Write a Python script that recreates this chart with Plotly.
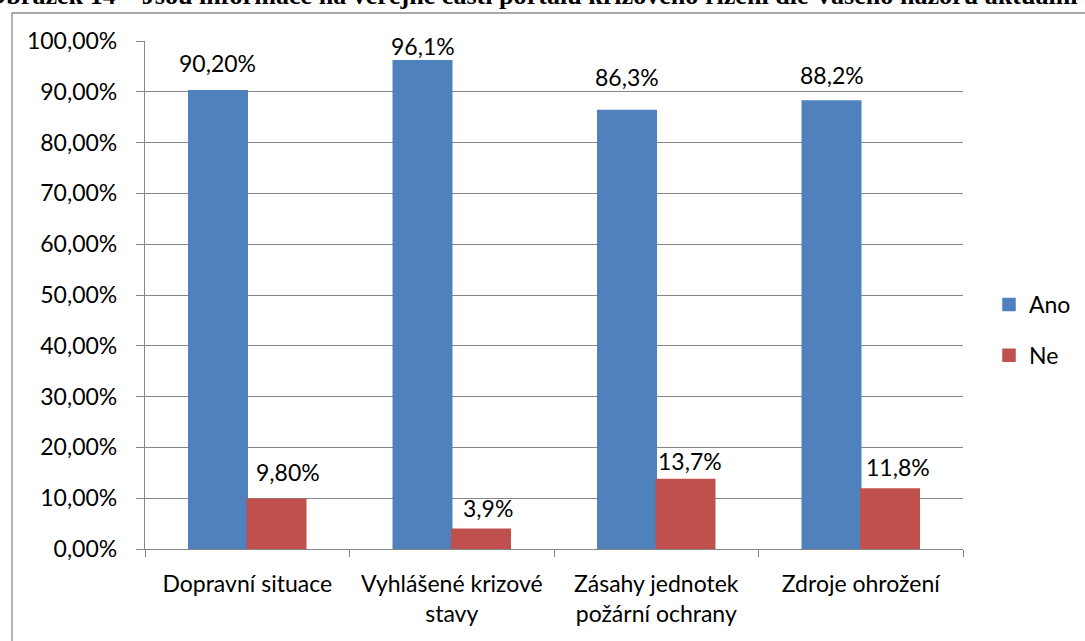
import plotly.graph_objects as go

categories = ["Dopravní situace", "Vyhlášené krizové<br>stavy", "Zásahy jednotek<br>požární ochrany", "Zdroje ohrožení"]
ano_values = [0.902, 0.961, 0.863, 0.882]
ne_values = [0.098, 0.039, 0.137, 0.118]
ano_labels = ["90,20%", "96,1%", "86,3%", "88,2%"]
ne_labels = ["9,80%", "3,9%", "13,7%", "11,8%"]
title_text = "Obrázek 14 – Jsou informace na veřejné části portálu krizového řízení dle Vašeho názoru aktuální"

# layout tweaks: manual label placement (pixels) as in the original chart
ano_label_dx = [-1, 0, 0, 0]
ano_label_dy = [28, 15, 34, 26]
ne_label_dx = [12, 7, 5, 8]
ne_label_dy = [27, 21, 18, 22]

FONT = "Lato, Open Sans, sans-serif"
FS = 23
W, H = 1085, 641
L, R, T, B = 145, 122, 41, 92
PW, PH = W - L - R, H - T - B
BARGAP = 0.428
bar_px = PW / len(categories) * (1 - BARGAP) / 2

fig = go.Figure()
fig.add_trace(go.Bar(name="Ano", x=categories, y=ano_values, marker_color="#4F81BD",
                     marker_line=dict(color="#4F81BD", width=1.5), legendgroup="a"))
fig.add_trace(go.Bar(name="Ne", x=categories, y=ne_values, marker_color="#C0504D",
                     marker_line=dict(color="#C0504D", width=1.5), legendgroup="b"))

annotations = []
for cat, v, lab, dx, dy in zip(categories, ano_values, ano_labels, ano_label_dx, ano_label_dy):
    annotations.append(dict(x=cat, y=v, text=lab, showarrow=False, xshift=-bar_px / 2 + dx,
                            yshift=dy, yanchor="middle", font=dict(size=FS, color="#000")))
for cat, v, lab, dx, dy in zip(categories, ne_values, ne_labels, ne_label_dx, ne_label_dy):
    annotations.append(dict(x=cat, y=v, text=lab, showarrow=False, xshift=bar_px / 2 + dx,
                            yshift=dy, yanchor="middle", font=dict(size=FS, color="#000")))
annotations.append(dict(text="<b>" + title_text + "</b>", xref="paper", yref="paper",
                        x=(1079 - L) / PW, y=1 + (T - 11) / PH, xanchor="right", yanchor="bottom",
                        showarrow=False, borderpad=0,
                        font=dict(family="Liberation Serif, Times New Roman, serif", size=26.1, color="#000")))

fig.update_layout(
    width=W, height=H,
    margin=dict(l=L, r=R, t=T, b=B, autoexpand=False),
    paper_bgcolor="white", plot_bgcolor="white",
    separators=", ",
    font=dict(family=FONT, size=FS, color="#000000"),
    barmode="group", bargap=BARGAP, bargroupgap=0,
    showlegend=True,
    legend=dict(x=(989 - L) / PW, y=(549 - 330) / PH, xanchor="left", yanchor="middle",
                font=dict(size=FS), traceorder="grouped", tracegroupgap=18,
                bgcolor="rgba(0,0,0,0)"),
    xaxis=dict(showline=True, linecolor="#868686", linewidth=1.3,
               ticks="outside", tickson="boundaries", ticklen=7, tickcolor="#868686",
               tickfont=dict(size=FS), ticklabelstandoff=14),
    yaxis=dict(range=[0, 1.0], tickformat=".2%", dtick=0.1, showline=True,
               linecolor="#868686", linewidth=1.3, ticks="outside", ticklen=8,
               tickcolor="#868686", gridcolor="#868686", gridwidth=1.3,
               zeroline=False, tickfont=dict(size=FS), ticklabelstandoff=14),
    shapes=[dict(type="rect", xref="paper", yref="paper",
                 x0=(12 - L) / PW, x1=1.3, y0=-0.3, y1=1 + (T - 13) / PH,
                 line=dict(color="#8c8c8c", width=1.3), layer="below")],
    annotations=annotations,
)
fig.write_html("out.html", config={"displayModeBar": False},
               post_script="document.body.style.margin='0';document.body.style.overflow='hidden';")
